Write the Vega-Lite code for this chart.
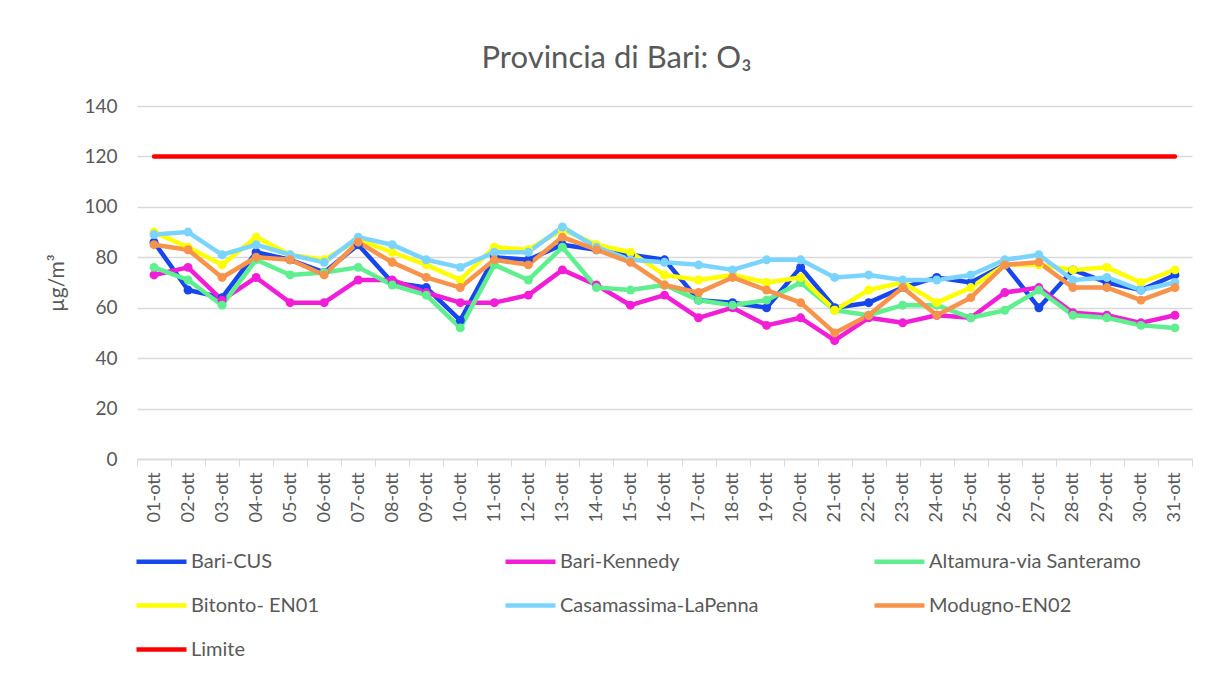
{
  "$schema": "https://vega.github.io/schema/vega-lite/v6.json",
  "autosize": {"type": "none"},
  "padding": {"left": 137, "top": 106, "right": 17, "bottom": 224},
  "width": 1055,
  "height": 353,
  "background": "white",
  "config": {
    "font": "Lato",
    "view": {"stroke": null}
  },
  "title": {
    "text": "Provincia di Bari: O₃",
    "font": "Lato",
    "fontSize": 31,
    "fontWeight": "normal",
    "color": "#595959",
    "anchor": "middle",
    "frame": "group",
    "dx": -48,
    "offset": 22
  },
  "data": {
    "values": [
      {"day": "01-ott", "Bari-CUS": 86, "Bari-Kennedy": 73, "Altamura-via Santeramo": 76, "Bitonto- EN01": 90, "Casamassima-LaPenna": 89, "Modugno-EN02": 85, "Limite": 120},
      {"day": "02-ott", "Bari-CUS": 67, "Bari-Kennedy": 76, "Altamura-via Santeramo": 71, "Bitonto- EN01": 84, "Casamassima-LaPenna": 90, "Modugno-EN02": 83, "Limite": 120},
      {"day": "03-ott", "Bari-CUS": 64, "Bari-Kennedy": 63, "Altamura-via Santeramo": 61, "Bitonto- EN01": 77, "Casamassima-LaPenna": 81, "Modugno-EN02": 72, "Limite": 120},
      {"day": "04-ott", "Bari-CUS": 82, "Bari-Kennedy": 72, "Altamura-via Santeramo": 79, "Bitonto- EN01": 88, "Casamassima-LaPenna": 85, "Modugno-EN02": 80, "Limite": 120},
      {"day": "05-ott", "Bari-CUS": 79, "Bari-Kennedy": 62, "Altamura-via Santeramo": 73, "Bitonto- EN01": 81, "Casamassima-LaPenna": 81, "Modugno-EN02": 79, "Limite": 120},
      {"day": "06-ott", "Bari-CUS": 74, "Bari-Kennedy": 62, "Altamura-via Santeramo": 74, "Bitonto- EN01": 79, "Casamassima-LaPenna": 78, "Modugno-EN02": 73, "Limite": 120},
      {"day": "07-ott", "Bari-CUS": 85, "Bari-Kennedy": 71, "Altamura-via Santeramo": 76, "Bitonto- EN01": 87, "Casamassima-LaPenna": 88, "Modugno-EN02": 86, "Limite": 120},
      {"day": "08-ott", "Bari-CUS": 70, "Bari-Kennedy": 71, "Altamura-via Santeramo": 69, "Bitonto- EN01": 82, "Casamassima-LaPenna": 85, "Modugno-EN02": 78, "Limite": 120},
      {"day": "09-ott", "Bari-CUS": 68, "Bari-Kennedy": 66, "Altamura-via Santeramo": 65, "Bitonto- EN01": 77, "Casamassima-LaPenna": 79, "Modugno-EN02": 72, "Limite": 120},
      {"day": "10-ott", "Bari-CUS": 55, "Bari-Kennedy": 62, "Altamura-via Santeramo": 52, "Bitonto- EN01": 71, "Casamassima-LaPenna": 76, "Modugno-EN02": 68, "Limite": 120},
      {"day": "11-ott", "Bari-CUS": 80, "Bari-Kennedy": 62, "Altamura-via Santeramo": 77, "Bitonto- EN01": 84, "Casamassima-LaPenna": 82, "Modugno-EN02": 79, "Limite": 120},
      {"day": "12-ott", "Bari-CUS": 79, "Bari-Kennedy": 65, "Altamura-via Santeramo": 71, "Bitonto- EN01": 83, "Casamassima-LaPenna": 82, "Modugno-EN02": 77, "Limite": 120},
      {"day": "13-ott", "Bari-CUS": 85, "Bari-Kennedy": 75, "Altamura-via Santeramo": 84, "Bitonto- EN01": 91, "Casamassima-LaPenna": 92, "Modugno-EN02": 88, "Limite": 120},
      {"day": "14-ott", "Bari-CUS": 83, "Bari-Kennedy": 69, "Altamura-via Santeramo": 68, "Bitonto- EN01": 85, "Casamassima-LaPenna": 84, "Modugno-EN02": 83, "Limite": 120},
      {"day": "15-ott", "Bari-CUS": 81, "Bari-Kennedy": 61, "Altamura-via Santeramo": 67, "Bitonto- EN01": 82, "Casamassima-LaPenna": 79, "Modugno-EN02": 78, "Limite": 120},
      {"day": "16-ott", "Bari-CUS": 79, "Bari-Kennedy": 65, "Altamura-via Santeramo": 69, "Bitonto- EN01": 73, "Casamassima-LaPenna": 78, "Modugno-EN02": 69, "Limite": 120},
      {"day": "17-ott", "Bari-CUS": 63, "Bari-Kennedy": 56, "Altamura-via Santeramo": 63, "Bitonto- EN01": 71, "Casamassima-LaPenna": 77, "Modugno-EN02": 66, "Limite": 120},
      {"day": "18-ott", "Bari-CUS": 62, "Bari-Kennedy": 60, "Altamura-via Santeramo": 61, "Bitonto- EN01": 73, "Casamassima-LaPenna": 75, "Modugno-EN02": 72, "Limite": 120},
      {"day": "19-ott", "Bari-CUS": 60, "Bari-Kennedy": 53, "Altamura-via Santeramo": 63, "Bitonto- EN01": 70, "Casamassima-LaPenna": 79, "Modugno-EN02": 67, "Limite": 120},
      {"day": "20-ott", "Bari-CUS": 76, "Bari-Kennedy": 56, "Altamura-via Santeramo": 70, "Bitonto- EN01": 72, "Casamassima-LaPenna": 79, "Modugno-EN02": 62, "Limite": 120},
      {"day": "21-ott", "Bari-CUS": 60, "Bari-Kennedy": 47, "Altamura-via Santeramo": 59, "Bitonto- EN01": 59, "Casamassima-LaPenna": 72, "Modugno-EN02": 50, "Limite": 120},
      {"day": "22-ott", "Bari-CUS": 62, "Bari-Kennedy": 56, "Altamura-via Santeramo": 57, "Bitonto- EN01": 67, "Casamassima-LaPenna": 73, "Modugno-EN02": 57, "Limite": 120},
      {"day": "23-ott", "Bari-CUS": 68, "Bari-Kennedy": 54, "Altamura-via Santeramo": 61, "Bitonto- EN01": 70, "Casamassima-LaPenna": 71, "Modugno-EN02": 68, "Limite": 120},
      {"day": "24-ott", "Bari-CUS": 72, "Bari-Kennedy": 57, "Altamura-via Santeramo": 61, "Bitonto- EN01": 62, "Casamassima-LaPenna": 71, "Modugno-EN02": 57, "Limite": 120},
      {"day": "25-ott", "Bari-CUS": 70, "Bari-Kennedy": 56, "Altamura-via Santeramo": 56, "Bitonto- EN01": 68, "Casamassima-LaPenna": 73, "Modugno-EN02": 64, "Limite": 120},
      {"day": "26-ott", "Bari-CUS": 77, "Bari-Kennedy": 66, "Altamura-via Santeramo": 59, "Bitonto- EN01": 77, "Casamassima-LaPenna": 79, "Modugno-EN02": 77, "Limite": 120},
      {"day": "27-ott", "Bari-CUS": 60, "Bari-Kennedy": 68, "Altamura-via Santeramo": 67, "Bitonto- EN01": 77, "Casamassima-LaPenna": 81, "Modugno-EN02": 78, "Limite": 120},
      {"day": "28-ott", "Bari-CUS": 75, "Bari-Kennedy": 58, "Altamura-via Santeramo": 57, "Bitonto- EN01": 75, "Casamassima-LaPenna": 71, "Modugno-EN02": 68, "Limite": 120},
      {"day": "29-ott", "Bari-CUS": 70, "Bari-Kennedy": 57, "Altamura-via Santeramo": 56, "Bitonto- EN01": 76, "Casamassima-LaPenna": 72, "Modugno-EN02": 68, "Limite": 120},
      {"day": "30-ott", "Bari-CUS": 67, "Bari-Kennedy": 54, "Altamura-via Santeramo": 53, "Bitonto- EN01": 70, "Casamassima-LaPenna": 67, "Modugno-EN02": 63, "Limite": 120},
      {"day": "31-ott", "Bari-CUS": 73, "Bari-Kennedy": 57, "Altamura-via Santeramo": 52, "Bitonto- EN01": 75, "Casamassima-LaPenna": 70, "Modugno-EN02": 68, "Limite": 120}
    ]
  },
  "transform": [
    {"fold": ["Bari-CUS", "Bari-Kennedy", "Altamura-via Santeramo", "Bitonto- EN01", "Casamassima-LaPenna", "Modugno-EN02", "Limite"], "as": ["station", "value"]}
  ],
  "encoding": {
    "x": {
      "field": "day",
      "type": "ordinal",
      "bandPosition": 0.5,
      "scale": {"type": "band", "paddingInner": 0, "paddingOuter": 0},
      "axis": {
        "title": null,
        "labelAngle": -90,
        "labelFontSize": 18,
        "labelColor": "#595959",
        "labelPadding": 6,
        "tickBand": "extent",
        "tickColor": "#d9d9d9",
        "tickSize": 7,
        "domainColor": "#d9d9d9",
        "domainWidth": 1.5,
        "grid": false
      }
    },
    "y": {
      "field": "value",
      "type": "quantitative",
      "scale": {"domain": [0, 140]},
      "axis": {
        "title": "µg/m³",
        "titleFontSize": 21,
        "titleFontWeight": "normal",
        "titleColor": "#595959",
        "titlePadding": 16,
        "values": [0, 20, 40, 60, 80, 100, 120, 140],
        "labelFontSize": 19,
        "labelColor": "#595959",
        "labelPadding": 20,
        "ticks": false,
        "domain": false,
        "gridColor": "#d9d9d9",
        "gridWidth": 1.5
      }
    },
    "color": {
      "field": "station",
      "type": "nominal",
      "sort": ["Bari-CUS", "Bari-Kennedy", "Altamura-via Santeramo", "Bitonto- EN01", "Casamassima-LaPenna", "Modugno-EN02", "Limite"],
      "scale": {
        "domain": ["Bari-CUS", "Bari-Kennedy", "Altamura-via Santeramo", "Bitonto- EN01", "Casamassima-LaPenna", "Modugno-EN02", "Limite"],
        "range": ["#1646EC", "#F21DD6", "#5FEF8F", "#FFFF00", "#7BD4FF", "#F7934A", "#FF0000"]
      },
      "legend": {
        "title": null,
        "orient": "none",
        "legendX": -3,
        "legendY": 428,
        "direction": "horizontal",
        "columns": 3,
        "gridAlign": "all",
        "columnPadding": 93,
        "rowPadding": 6,
        "symbolType": "stroke",
        "symbolSize": 2500,
        "symbolStrokeWidth": 4.5,
        "labelFontSize": 20,
        "labelColor": "#595959",
        "labelOffset": 2,
        "labelLimit": 400
      }
    }
  },
  "layer": [
    {
      "mark": {"type": "line", "strokeWidth": 4.5, "strokeJoin": "round", "strokeCap": "round"}
    },
    {
      "transform": [{"filter": "datum.station !== 'Limite'"}],
      "mark": {"type": "point", "filled": true, "opacity": 1, "size": 80, "shape": "circle"},
      "encoding": {
        "color": {"field": "station", "type": "nominal", "legend": null}
      }
    }
  ]
}
